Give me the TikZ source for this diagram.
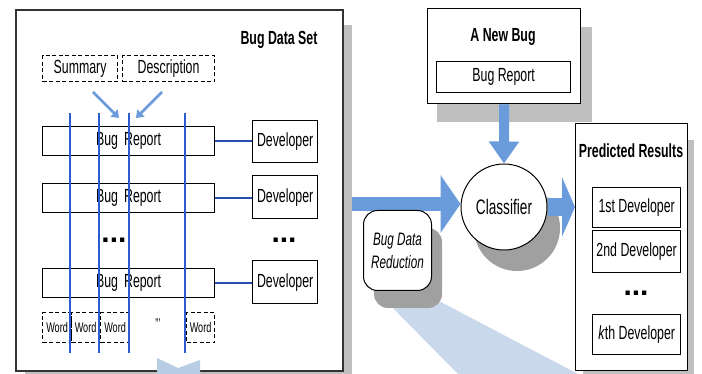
\documentclass[tikz,border=0pt]{standalone}
\usepackage{fontspec}
\setmainfont{Liberation Sans}[FakeStretch=0.65]
\newfontfamily\plainsans{Liberation Sans}
\usetikzlibrary{arrows.meta}
\definecolor{arrowblue}{HTML}{6A9BDB}
\definecolor{lineblue}{HTML}{2F5BD0}
\definecolor{chevblue}{HTML}{B8CCE4}
\definecolor{beamblue}{HTML}{C9D8EA}
\definecolor{shadowgray}{HTML}{BFBFBF}
\definecolor{darkshadow}{HTML}{A0A0A0}
\begin{document}
\begin{tikzpicture}[x=1pt,y=-1pt,
  box/.style={draw=black, line width=1.3pt, fill=white, inner sep=0pt, anchor=north west, font=\fontsize{19}{21}\selectfont},
  dbox/.style={draw=black, line width=1.2pt, dash pattern=on 4pt off 2.5pt, fill=white, inner sep=0pt, anchor=north west},
  btxt/.style={inner sep=0pt, font=\fontsize{19}{21}\selectfont\bfseries},
  wtxt/.style={font=\fontsize{14}{16}\selectfont},
  gridline/.style={draw=lineblue, line width=1.1pt},
  devline/.style={draw=lineblue!85!black, line width=1.4pt},
  smallarrow/.style={draw=arrowblue, line width=2.6pt, -{Triangle[length=7pt,width=10pt]}},
  dots/.style={inner sep=0pt, font=\plainsans\fontsize{30}{32}\selectfont\bfseries}
]
\useasboundingbox (0,0) rectangle (702,374);
\fill[white] (0,0) rectangle (702,374);

% ---------- left: Bug Data Set ----------
\fill[shadowgray] (25,25) rectangle (352,374);
\node[draw=black!80, line width=1.8pt, fill=white, inner sep=0pt, anchor=north west,
      minimum width=327pt, minimum height=361pt] (leftbox) at (15,9) {};
\node[btxt] (dstitle) at (279,40) {Bug Data Set};

\node[dbox, minimum width=75pt, minimum height=26pt, font=\fontsize{19}{21}\selectfont] (sum) at (42,55) {Summary};
\node[dbox, minimum width=92pt, minimum height=26pt, font=\fontsize{19}{21}\selectfont] (desc) at (122,55) {Description};
\coordinate (a1s) at (93,92);  \coordinate (a1e) at (119,118);
\coordinate (a2s) at (162,92); \coordinate (a2e) at (136,118);
\draw[smallarrow] (a1s) -- (a1e);
\draw[smallarrow] (a2s) -- (a2e);

\node[box, minimum width=172pt, minimum height=29pt] (r1) at (42,126) {Bug\hspace{6pt}Report};
\node[box, minimum width=172pt, minimum height=29pt] (r2) at (42,183) {Bug\hspace{6pt}Report};
\node[box, minimum width=172pt, minimum height=29pt] (r3) at (42,268) {Bug\hspace{6pt}Report};

\node[box, minimum width=65pt, minimum height=42pt] (d1) at (252,120) {Developer};
\node[box, minimum width=65pt, minimum height=43pt] (d2) at (252,175) {Developer};
\node[box, minimum width=65pt, minimum height=43pt] (d3) at (252,260) {Developer};

\draw[devline] (r1.east) -- (r1.east -| d1.west);
\draw[devline] (r2.east) -- (r2.east -| d2.west);
\draw[devline] (r3.east) -- (r3.east -| d3.west);

\node[dots] (dl) at (114,240) {...};
\node[dots] (dr) at (284,240) {...};

\node[dbox, minimum width=29pt, minimum height=30pt, wtxt] (w1) at (42,312) {Word};
\node[dbox, minimum width=28pt, minimum height=30pt, wtxt] (w2) at (71,312) {Word};
\node[dbox, minimum width=29pt, minimum height=30pt, wtxt] (w3) at (100,312) {Word};
\node[inner sep=0pt, wtxt] (wdots) at (158,324) {\char"22\char"27};
\node[dbox, minimum width=28pt, minimum height=30pt, wtxt] (w5) at (186,312) {Word};

\foreach \x [count=\i] in {70,99,129,185}{
  \coordinate (vt\i) at (\x,113);
  \coordinate (vb\i) at (\x,353);
  \draw[gridline] (vt\i) -- (vb\i);
}

% bottom chevron
\fill[chevblue] (157,358) -- (178,368) -- (200,360) -- (200,374) -- (157,374) -- cycle;

% ---------- right side ----------
% A New Bug
\fill[shadowgray] (437,27) rectangle (592,122);
\node[box, minimum width=153pt, minimum height=95pt] (newbug) at (427,8) {};
\node[btxt] (nbtitle) at (503,37) {A New Bug};
\node[box, minimum width=134pt, minimum height=31pt] (nbr) at (436,61) {Bug Report};

% Predicted Results
\fill[shadowgray] (583,140) rectangle (694,374);
\node[box, minimum width=112pt, minimum height=247pt] (pred) at (575,123) {};
\node[btxt] (prtitle) at (631,151) {Predicted Results};
\node[box, minimum width=88pt, minimum height=40pt] (p1) at (592,187) {1st Developer};
\node[box, minimum width=88pt, minimum height=42pt] (p2) at (592,230) {2nd Developer};
\node[dots] (pd) at (636,293) {...};
\node[box, minimum width=88pt, minimum height=40pt] (pk) at (592,314) {\textit{k}th Developer};

% Classifier
\fill[darkshadow] (517,228) circle (43pt);
\node[draw=black, line width=1pt, fill=white, circle, minimum size=86pt, inner sep=0pt,
      font=\fontsize{21}{23}\selectfont] (clf) at (504,207) {Classifier};

% big arrows
\coordinate (ls) at (352,204);
\draw[draw=arrowblue, line width=14pt, -{Triangle[length=20pt,width=57pt]}] (ls) -- (ls -| clf.west);
\draw[draw=arrowblue, line width=10pt, -{Triangle[length=22pt,width=29pt]}] (newbug.south) -- (clf.north);
\draw[draw=arrowblue, line width=18pt, -{Triangle[length=13pt,width=59pt]}] (clf.east) -- (clf.east -| pred.west);

% Bug Data Reduction with beam and shadow
\fill[beamblue] (378,293) -- (437,300) -- (578,374) -- (458,374) -- cycle;
\fill[darkshadow, rounded corners=14pt] (374,228) rectangle (442,308);
\node[draw=black, line width=1pt, fill=white, rounded corners=14pt, inner sep=0pt,
      anchor=north west, minimum width=68pt, minimum height=80pt, align=center,
      font=\fontsize{18}{23}\selectfont\itshape] (red) at (363,210) {Bug Data\\Reduction};
\end{tikzpicture}
\end{document}
